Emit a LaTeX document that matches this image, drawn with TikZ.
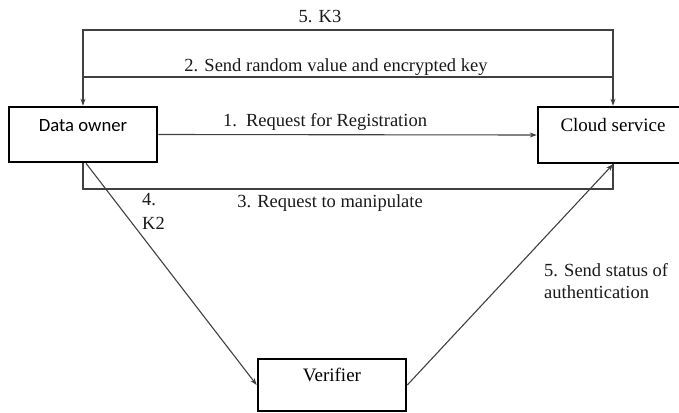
\documentclass[tikz,border=0pt]{standalone}
\usepackage{fontspec}
\setmainfont{Liberation Serif}
\newfontfamily\calibri{Carlito}
\usetikzlibrary{arrows.meta, calc}

\begin{document}
\begin{tikzpicture}[x=1pt, y=-1pt,
    party/.style={draw, line width=2.6pt, inner sep=0pt, font=\fontsize{19}{23}\selectfont},
    msg/.style={draw=black!75, line width=1.1pt},
    tip/.style={-{Stealth[length=7pt, width=5pt]}},
    lbl/.style={font=\fontsize{18.5}{22}\selectfont, text=black!90, inner sep=1pt}]
    \useasboundingbox (0,0) rectangle (679,412);
    \begin{scope}
    \clip (0,0) rectangle (679,412);
    \node[party, minimum width=148pt, text height=24pt, text depth=31pt, font=\calibri\fontsize{18.7}{22}\selectfont] (owner) at (83,134.5) {Data owner};
    \node[party, minimum width=150pt, text height=24pt, text depth=32pt] (cloud) at (613,135) {Cloud service};
    \node[party, minimum width=148pt, text height=22.5pt, text depth=29.5pt] (verifier) at (332,385) {Verifier};
    \end{scope}
    \coordinate (k3) at (330,30);
    \coordinate (rnd) at (330,77);
    \coordinate (manip) at (330,189);
    \draw[msg, {Stealth[length=7pt, width=5pt]}-{Stealth[length=7pt, width=5pt]}] (owner.north) |- (k3) -| (cloud.north);
    \draw[msg] (owner.north |- rnd) -- (cloud.north |- rnd);
    \draw[msg, tip] (owner.east) -- (cloud.west);
    \draw[msg] (owner.south) |- (manip) -| (cloud.south);
    \draw[msg, tip] ([xshift=3pt]owner.south) -- (verifier.west);
    \draw[msg, tip] (verifier.east) -- (cloud.south);
    \node[lbl] (lk3) at (320,17) {5. K3};
    \node[lbl] (lrnd) at (336,67) {2. Send random value and encrypted key};
    \node[lbl] (lreg) at (325,122) {1.\ \ Request for Registration};
    \node[lbl] (lmanip) at (330,203) {3. Request to manipulate};
    \node[lbl, align=left, anchor=north west] (lk2) at (141,192) {4.\\[2pt]K2};
    \node[lbl, align=left, anchor=north west] (lstatus) at (543,262) {5. Send status of\\authentication};
\end{tikzpicture}
\end{document}
